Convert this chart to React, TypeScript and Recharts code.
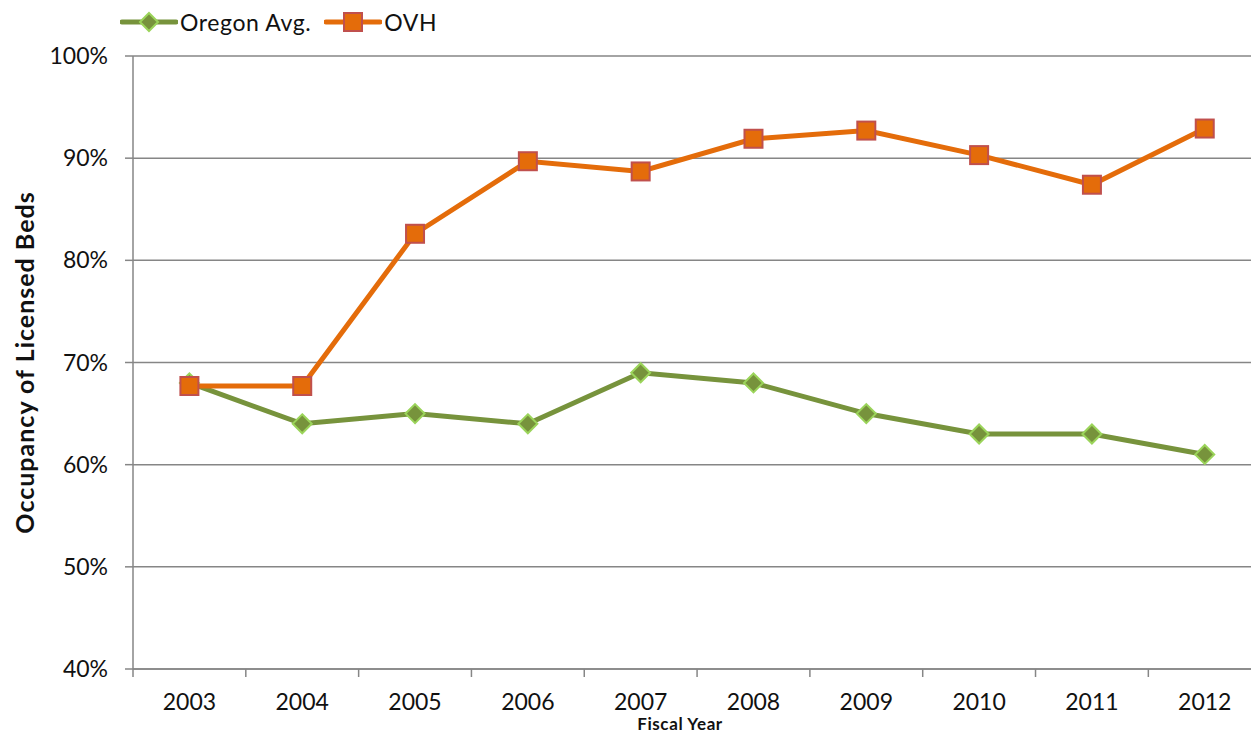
import {
  LineChart,
  Line,
  XAxis,
  YAxis,
  CartesianGrid,
  Legend,
  Label,
} from 'recharts';

const years = ['2003', '2004', '2005', '2006', '2007', '2008', '2009', '2010', '2011', '2012'];
const oregonAvg = [0.68, 0.64, 0.65, 0.64, 0.69, 0.68, 0.65, 0.63, 0.63, 0.61];
const ovh = [0.677, 0.677, 0.826, 0.897, 0.887, 0.919, 0.927, 0.903, 0.874, 0.929];
const yTicks = [0.4, 0.5, 0.6, 0.7, 0.8, 0.9, 1.0];

const data = years.map((year, i) => ({
  x: i + 0.5,
  year,
  oregon: oregonAvg[i],
  ovh: ovh[i],
}));

// boundaries between categories carry tick marks, centers carry the labels
const xTicks: number[] = [];
for (let i = 0; i < years.length * 2; i++) xTicks.push(i / 2);

const FONT = 'Lato, "Open Sans", sans-serif';
const GREEN = '#77933C';
const GREEN_EDGE = '#9BD45A';
const ORANGE = '#E46C0A';
const ORANGE_EDGE = '#C0504D';
const GRID = '#868686';

function XTick(props: any) {
  const { x, y, payload } = props;
  const v = payload.value as number;
  if (Number.isInteger(v)) {
    return <line x1={x} x2={x} y1={y} y2={y + 8} stroke={GRID} strokeWidth={1.5} />;
  }
  const idx = Math.floor(v);
  return (
    <text x={x} y={y + 41} textAnchor="middle" fill="#111" fontSize={23} fontFamily={FONT}>
      {years[idx]}
    </text>
  );
}

function Diamond(props: any) {
  const { cx, cy } = props;
  if (cx == null || cy == null) return null;
  const r = 9.5;
  return (
    <path
      d={`M${cx},${cy - r}L${cx + r},${cy}L${cx},${cy + r}L${cx - r},${cy}Z`}
      fill={GREEN}
      stroke={GREEN_EDGE}
      strokeWidth={2}
    />
  );
}

function Square(props: any) {
  const { cx, cy } = props;
  if (cx == null || cy == null) return null;
  const s = 9;
  return (
    <rect x={cx - s} y={cy - s} width={s * 2} height={s * 2} fill={ORANGE} stroke={ORANGE_EDGE} strokeWidth={2} />
  );
}

function LegendContent() {
  const item = (label: string, color: string, marker: 'diamond' | 'square') => (
    <div style={{ display: 'flex', alignItems: 'center', marginRight: 13 }}>
      <svg width={58} height={24}>
        <line x1={2} x2={56} y1={12} y2={12} stroke={color} strokeWidth={5} strokeLinecap="round" />
        {marker === 'diamond' ? (
          <path d="M29,3L38,12L29,21L20,12Z" fill={GREEN} stroke={GREEN_EDGE} strokeWidth={2} />
        ) : (
          <rect x={20} y={3} width={18} height={18} fill={ORANGE} stroke={ORANGE_EDGE} strokeWidth={2} />
        )}
      </svg>
      <span style={{ fontFamily: FONT, fontSize: 23, letterSpacing: 0.6, color: '#111', marginLeft: 2 }}>{label}</span>
    </div>
  );
  return (
    <div style={{ display: 'flex', height: 36, alignItems: 'flex-start', paddingLeft: 120, paddingTop: 8, boxSizing: 'border-box' }}>
      {item('Oregon Avg.', GREEN, 'diamond')}
      {item('OVH', ORANGE, 'square')}
    </div>
  );
}

export default function App() {
  return (
    <div style={{ position: 'absolute', left: 0, top: 0, background: '#fff' }}>
      <LineChart
        width={1251}
        height={734}
        data={data}
        margin={{ top: 20, right: 0, left: 0, bottom: 0 }}
      >
        <CartesianGrid vertical={false} stroke={GRID} strokeWidth={1.5} />
        <XAxis
          dataKey="x"
          type="number"
          domain={[0, 9.91]}
          allowDataOverflow
          ticks={xTicks}
          interval={0}
          tick={<XTick />}
          tickLine={false}
          tickSize={0}
          tickMargin={0}
          height={65}
          axisLine={{ stroke: GRID, strokeWidth: 1.5 }}
        >
          <Label
            value="Fiscal Year"
            position="insideBottom"
            offset={4}
            dx={-12}
            style={{ fontFamily: FONT, fontSize: 17, letterSpacing: 0.6, fontWeight: 700, fill: '#111' }}
          />
        </XAxis>
        <YAxis
          domain={[0.4, 1.0]}
          ticks={yTicks}
          width={133}
          tickSize={8}
          tickMargin={17}
          tickFormatter={(v: number) => `${Math.round(v * 100)}%`}
          tick={{ fill: '#111', fontSize: 23, fontFamily: FONT }}
          tickLine={{ stroke: GRID, strokeWidth: 1.5 }}
          axisLine={{ stroke: GRID, strokeWidth: 1.5 }}
        >
          <Label
            value="Occupancy of Licensed Beds"
            angle={-90}
            position="center"
            dx={-41}
            style={{ fontFamily: FONT, fontSize: 25, letterSpacing: 1, fontWeight: 700, fill: '#111', textAnchor: 'middle' }}
          />
        </YAxis>
        <Legend verticalAlign="top" align="left" content={<LegendContent />} wrapperStyle={{ top: 0, left: 0 }} />
        <Line
          dataKey="oregon"
          name="Oregon Avg."
          stroke={GREEN}
          strokeWidth={5}
          dot={<Diamond />}
          activeDot={false}
          isAnimationActive={false}
        />
        <Line
          dataKey="ovh"
          name="OVH"
          stroke={ORANGE}
          strokeWidth={5}
          dot={<Square />}
          activeDot={false}
          isAnimationActive={false}
        />
      </LineChart>
    </div>
  );
}
